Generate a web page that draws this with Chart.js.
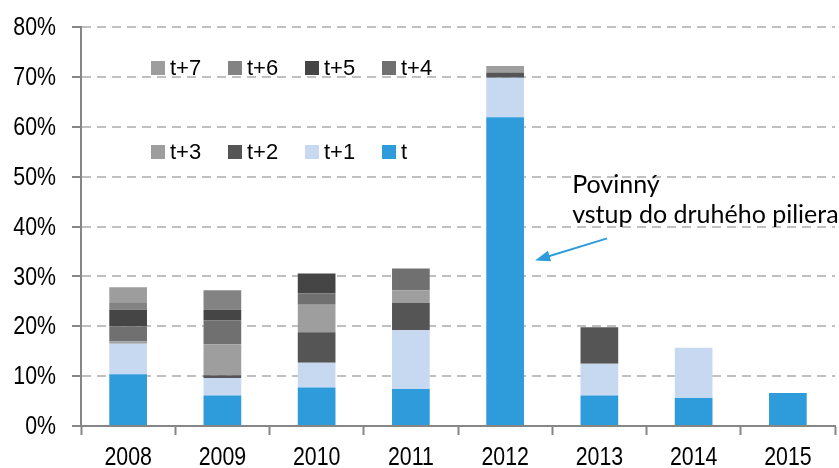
<!DOCTYPE html>
<html>
<head>
<meta charset="utf-8">
<script src="https://cdn.jsdelivr.net/npm/chart.js@4.4.1/dist/chart.umd.min.js"></script>
<style>
  html, body { margin: 0; padding: 0; background: #fff; }
</style>
</head>
<body>
<canvas id="chart" width="839" height="468"></canvas>
<script>
// categories
const years = ['2008', '2009', '2010', '2011', '2012', '2013', '2014', '2015'];
// share of contributions by year of entry (%)
const valT  = [10.4, 6.1, 7.7, 7.4, 61.9, 6.1, 5.6, 6.6];
const valT1 = [6.1, 3.5, 5.0, 11.8, 7.9, 6.4, 10.1, 0];
const valT2 = [0, 0.6, 6.1, 5.5, 1.1, 7.3, 0, 0];
const valT3 = [0.5, 6.2, 5.5, 2.5, 1.3, 0, 0, 0];
const valT4 = [3.0, 4.8, 2.3, 4.4, 0, 0, 0, 0];
const valT5 = [3.3, 2.1, 4.0, 0, 0, 0, 0, 0];
const valT6 = [1.5, 3.9, 0, 0, 0, 0, 0, 0];
const valT7 = [3.0, 0, 0, 0, 0, 0, 0, 0];
const yTicks = [0, 10, 20, 30, 40, 50, 60, 70, 80];
const legendRows = [['t+7', 't+6', 't+5', 't+4'], ['t+3', 't+2', 't+1', 't']];
const noteLines = ['Povinný', 'vstup do druhého piliera'];

const axisGrey = '#868686';
const tickFont = '26px "Liberation Sans", Arial, sans-serif';

// no narrow font installed, so tick labels are drawn squeezed by hand
var narrowTicks = {
  id: 'narrowTicks',
  afterDraw: function(chart) {
    var ctx = chart.ctx;
    var xs = chart.scales.x, ys = chart.scales.y;
    ctx.save();
    ctx.font = tickFont;
    ctx.fillStyle = '#000';
    ctx.textAlign = 'right';
    ctx.textBaseline = 'middle';
    ys.ticks.forEach(function(t) {
      ctx.save();
      ctx.translate(ys.left - 16, ys.getPixelForValue(t.value) + 1);
      ctx.scale(0.82, 1);
      ctx.fillText(t.value + '%', 0, 0);
      ctx.restore();
    });
    ctx.textAlign = 'center';
    ctx.textBaseline = 'alphabetic';
    years.forEach(function(y, i) {
      ctx.save();
      ctx.translate(xs.getPixelForValue(i), xs.bottom + 30);
      ctx.scale(0.82, 1);
      ctx.fillText(y, 0, 0);
      ctx.restore();
    });
    ctx.restore();
  }
};

var legendPlugin = {
  id: 'gridLegend',
  afterDraw: function(chart) {
    var ctx = chart.ctx;
    var area = chart.chartArea;
    ctx.save();
    ctx.font = '22px "Liberation Sans", Arial, sans-serif';
    ctx.textBaseline = 'middle';
    ctx.textAlign = 'left';
    legendRows.forEach(function(row, r) {
      var cy = area.top + 41 + r * 84;
      row.forEach(function(label, i) {
        var ds = chart.data.datasets.find(function(d) { return d.label == label; });
        var bx = area.left + 70 + i * 77;
        ctx.fillStyle = ds.backgroundColor;
        ctx.fillRect(bx, cy - 7, 14, 14);
        ctx.fillStyle = '#000';
        ctx.fillText(label, bx + 19, cy + 1);
      });
    });
    ctx.restore();
  }
};

var notePlugin = {
  id: 'note',
  afterDraw: function(chart) {
    var ctx = chart.ctx;
    var xs = chart.scales.x, ys = chart.scales.y;
    // arrow pointing at the 2012 bar
    var hx = xs.getPixelForValue(4) + 30;
    var hy = ys.getPixelForValue(33.2);
    var tx = hx + 72;
    var ty = hy - 22;
    var ang = Math.atan2(hy - ty, hx - tx);
    ctx.save();
    ctx.strokeStyle = '#2E9BDB';
    ctx.fillStyle = '#2E9BDB';
    ctx.lineWidth = 2;
    ctx.beginPath();
    ctx.moveTo(tx, ty);
    ctx.lineTo(hx - 10 * Math.cos(ang), hy - 10 * Math.sin(ang));
    ctx.stroke();
    ctx.beginPath();
    ctx.moveTo(hx, hy);
    ctx.lineTo(hx - 15 * Math.cos(ang) + 5.5 * Math.sin(ang), hy - 15 * Math.sin(ang) - 5.5 * Math.cos(ang));
    ctx.lineTo(hx - 15 * Math.cos(ang) - 5.5 * Math.sin(ang), hy - 15 * Math.sin(ang) + 5.5 * Math.cos(ang));
    ctx.closePath();
    ctx.fill();
    ctx.fillStyle = '#000';
    ctx.font = '25px Lato, "Open Sans", sans-serif';
    ctx.textAlign = 'left';
    ctx.textBaseline = 'alphabetic';
    ctx.fillText(noteLines[0], hx + 37, hy - 67);
    ctx.fillText(noteLines[1], hx + 37, hy - 37);
    ctx.restore();
  }
};

var chart = new Chart(document.getElementById('chart'), {
  type: 'bar',
  data: {
    labels: years,
    datasets: [
      { label: 't',   data: valT,  backgroundColor: '#2E9BDB' },
      { label: 't+1', data: valT1, backgroundColor: '#C6D9F0' },
      { label: 't+2', data: valT2, backgroundColor: '#555555' },
      { label: 't+3', data: valT3, backgroundColor: '#9E9E9E' },
      { label: 't+4', data: valT4, backgroundColor: '#707070' },
      { label: 't+5', data: valT5, backgroundColor: '#454545' },
      { label: 't+6', data: valT6, backgroundColor: '#838383' },
      { label: 't+7', data: valT7, backgroundColor: '#9D9D9D' }
    ]
  },
  options: {
    responsive: false,
    animation: false,
    layout: { padding: { left: 72, top: 27, right: 4, bottom: 33 } },
    datasets: { bar: { barPercentage: 0.4, categoryPercentage: 1, borderWidth: 0 } },
    plugins: {
      legend: { display: false },
      tooltip: { enabled: false }
    },
    scales: {
      x: {
        stacked: true,
        grid: { drawOnChartArea: false, drawTicks: true, tickLength: 9, tickColor: axisGrey, tickWidth: 2 },
        border: { color: axisGrey, width: 2 },
        ticks: { display: false }
      },
      y: {
        stacked: true,
        min: 0,
        max: 80,
        afterBuildTicks: function(axis) {
          axis.ticks = yTicks.map(function(v) { return { value: v }; });
        },
        grid: {
          color: function(c) { return c.tick && c.tick.value === 0 ? 'rgba(0,0,0,0)' : '#C0C0C0'; },
          lineWidth: 2,
          tickLength: 9,
          tickColor: axisGrey,
          tickWidth: 2
        },
        border: { color: axisGrey, width: 2, dash: [9, 6] },
        ticks: { display: false }
      }
    }
  },
  plugins: [narrowTicks, legendPlugin, notePlugin]
});
</script>
</body>
</html>
